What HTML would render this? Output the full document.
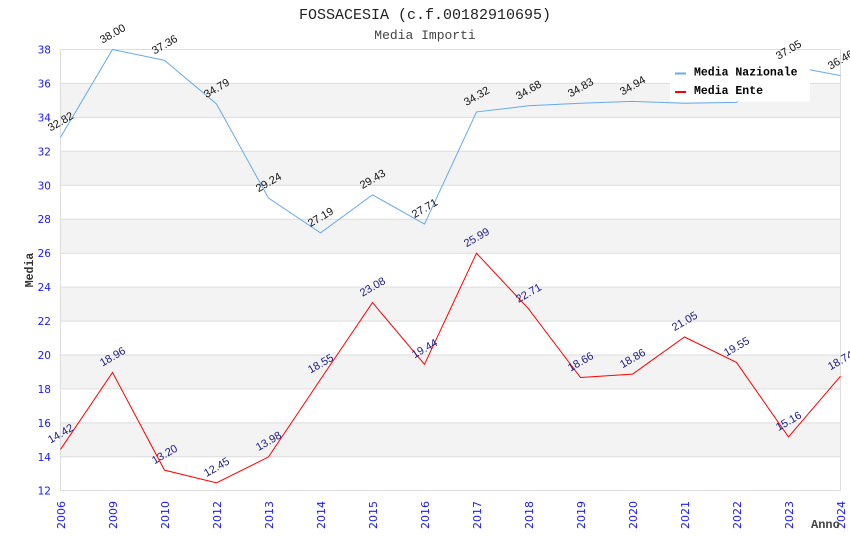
<!DOCTYPE html>
<html><head><meta charset="utf-8"><style>
html,body{margin:0;padding:0;background:#fff;}
svg{display:block;}
</style></head><body>
<svg width="850" height="550" viewBox="0 0 850 550" xmlns="http://www.w3.org/2000/svg">
<rect width="850" height="550" fill="#fff"/>
<!-- bands -->
<g fill="#f3f3f3">
<rect x="60.5" y="83.4" width="780" height="34"/>
<rect x="60.5" y="151.3" width="780" height="34"/>
<rect x="60.5" y="219.2" width="780" height="34"/>
<rect x="60.5" y="287.1" width="780" height="34"/>
<rect x="60.5" y="355.0" width="780" height="34"/>
<rect x="60.5" y="422.9" width="780" height="34"/>
</g>
<g stroke="#dddddd" stroke-width="1">
<line x1="60.5" x2="840.5" y1="49.5" y2="49.5"/>
<line x1="60.5" x2="840.5" y1="83.4" y2="83.4"/>
<line x1="60.5" x2="840.5" y1="117.4" y2="117.4"/>
<line x1="60.5" x2="840.5" y1="151.3" y2="151.3"/>
<line x1="60.5" x2="840.5" y1="185.3" y2="185.3"/>
<line x1="60.5" x2="840.5" y1="219.2" y2="219.2"/>
<line x1="60.5" x2="840.5" y1="253.2" y2="253.2"/>
<line x1="60.5" x2="840.5" y1="287.1" y2="287.1"/>
<line x1="60.5" x2="840.5" y1="321.1" y2="321.1"/>
<line x1="60.5" x2="840.5" y1="355.0" y2="355.0"/>
<line x1="60.5" x2="840.5" y1="388.9" y2="388.9"/>
<line x1="60.5" x2="840.5" y1="422.9" y2="422.9"/>
<line x1="60.5" x2="840.5" y1="456.8" y2="456.8"/>
<line x1="60.5" x2="840.5" y1="490.5" y2="490.5"/>
<line x1="60.5" x2="60.5" y1="49.5" y2="490.5"/>
<line x1="840.5" x2="840.5" y1="49.5" y2="490.5"/>
</g>
<!-- titles -->
<text x="425" y="19" text-anchor="middle" font-family="Liberation Mono, DejaVu Sans Mono, monospace" font-size="15" fill="#222">FOSSACESIA (c.f.00182910695)</text>
<text x="425" y="39" text-anchor="middle" font-family="Liberation Mono, DejaVu Sans Mono, monospace" font-size="13" fill="#444">Media Importi</text>
<!-- y ticks -->
<g font-family="DejaVu Sans, Liberation Sans, sans-serif" font-size="10.5" fill="#1a1aff" text-anchor="end">
<text x="51" y="53.5">38</text>
<text x="51" y="87.4">36</text>
<text x="51" y="121.4">34</text>
<text x="51" y="155.3">32</text>
<text x="51" y="189.3">30</text>
<text x="51" y="223.2">28</text>
<text x="51" y="257.2">26</text>
<text x="51" y="291.1">24</text>
<text x="51" y="325.1">22</text>
<text x="51" y="359.0">20</text>
<text x="51" y="392.9">18</text>
<text x="51" y="426.9">16</text>
<text x="51" y="460.8">14</text>
<text x="51" y="494.5">12</text>
</g>
<!-- x ticks -->
<g font-family="DejaVu Sans, Liberation Sans, sans-serif" font-size="11" fill="#1a1aff" text-anchor="end">
<text transform="translate(65,501) rotate(-90)">2006</text>
<text transform="translate(117,501) rotate(-90)">2009</text>
<text transform="translate(169,501) rotate(-90)">2010</text>
<text transform="translate(221,501) rotate(-90)">2012</text>
<text transform="translate(273,501) rotate(-90)">2013</text>
<text transform="translate(325,501) rotate(-90)">2014</text>
<text transform="translate(377,501) rotate(-90)">2015</text>
<text transform="translate(429,501) rotate(-90)">2016</text>
<text transform="translate(481,501) rotate(-90)">2017</text>
<text transform="translate(533,501) rotate(-90)">2018</text>
<text transform="translate(585,501) rotate(-90)">2019</text>
<text transform="translate(637,501) rotate(-90)">2020</text>
<text transform="translate(689,501) rotate(-90)">2021</text>
<text transform="translate(741,501) rotate(-90)">2022</text>
<text transform="translate(793,501) rotate(-90)">2023</text>
<text transform="translate(845,501) rotate(-90)">2024</text>
</g>
<!-- axis titles -->
<text transform="translate(33,270) rotate(-90)" text-anchor="middle" font-family="Liberation Mono, DejaVu Sans Mono, monospace" font-weight="bold" font-size="11.5" fill="#333">Media</text>
<text x="811" y="528" font-family="Liberation Mono, DejaVu Sans Mono, monospace" font-weight="bold" font-size="12" fill="#444">Anno</text>
<!-- series -->
<polyline fill="none" stroke="#66aaee" stroke-width="1" points="60.5,137.36 112.5,49.5 164.5,60.36 216.5,103.95 268.5,198.08 320.5,232.86 372.5,194.86 424.5,224.03 476.5,111.92 528.5,105.81 580.5,103.27 632.5,101.4 684.5,103.27 736.5,102.42 788.5,65.61 840.5,75.62"/>
<polyline fill="none" stroke="#ff0000" stroke-width="1" points="60.5,449.45 112.5,372.45 164.5,470.15 216.5,482.87 268.5,456.92 320.5,379.4 372.5,302.57 424.5,364.31 476.5,253.21 528.5,308.84 580.5,377.54 632.5,374.14 684.5,337 736.5,362.44 788.5,436.9 840.5,376.18"/>
<!-- value labels nazionale -->
<g font-family="Liberation Sans, DejaVu Sans, sans-serif" font-size="11" fill="#111" text-anchor="middle">
<text transform="translate(60.5,121.4) rotate(-30)" dy="0.35em">32.82</text>
<text transform="translate(112.5,33.5) rotate(-30)" dy="0.35em">38.00</text>
<text transform="translate(164.5,44.4) rotate(-30)" dy="0.35em">37.36</text>
<text transform="translate(216.5,88) rotate(-30)" dy="0.35em">34.79</text>
<text transform="translate(268.5,182.1) rotate(-30)" dy="0.35em">29.24</text>
<text transform="translate(320.5,216.9) rotate(-30)" dy="0.35em">27.19</text>
<text transform="translate(372.5,178.9) rotate(-30)" dy="0.35em">29.43</text>
<text transform="translate(424.5,208) rotate(-30)" dy="0.35em">27.71</text>
<text transform="translate(476.5,95.9) rotate(-30)" dy="0.35em">34.32</text>
<text transform="translate(528.5,89.8) rotate(-30)" dy="0.35em">34.68</text>
<text transform="translate(580.5,87.3) rotate(-30)" dy="0.35em">34.83</text>
<text transform="translate(632.5,85.4) rotate(-30)" dy="0.35em">34.94</text>
<text transform="translate(684.5,87.3) rotate(-30)" dy="0.35em">34.83</text>
<text transform="translate(736.5,86.4) rotate(-30)" dy="0.35em">34.88</text>
<text transform="translate(788.5,49.6) rotate(-30)" dy="0.35em">37.05</text>
<text transform="translate(840.5,59.6) rotate(-30)" dy="0.35em">36.46</text>
</g>
<!-- value labels ente -->
<g font-family="Liberation Sans, DejaVu Sans, sans-serif" font-size="11" fill="#1a1a88" text-anchor="middle">
<text transform="translate(60.5,433.4) rotate(-30)" dy="0.35em">14.42</text>
<text transform="translate(112.5,356.4) rotate(-30)" dy="0.35em">18.96</text>
<text transform="translate(164.5,454.1) rotate(-30)" dy="0.35em">13.20</text>
<text transform="translate(216.5,466.9) rotate(-30)" dy="0.35em">12.45</text>
<text transform="translate(268.5,440.9) rotate(-30)" dy="0.35em">13.98</text>
<text transform="translate(320.5,363.4) rotate(-30)" dy="0.35em">18.55</text>
<text transform="translate(372.5,286.6) rotate(-30)" dy="0.35em">23.08</text>
<text transform="translate(424.5,348.3) rotate(-30)" dy="0.35em">19.44</text>
<text transform="translate(476.5,237.2) rotate(-30)" dy="0.35em">25.99</text>
<text transform="translate(528.5,292.8) rotate(-30)" dy="0.35em">22.71</text>
<text transform="translate(580.5,361.5) rotate(-30)" dy="0.35em">18.66</text>
<text transform="translate(632.5,358.1) rotate(-30)" dy="0.35em">18.86</text>
<text transform="translate(684.5,321) rotate(-30)" dy="0.35em">21.05</text>
<text transform="translate(736.5,346.4) rotate(-30)" dy="0.35em">19.55</text>
<text transform="translate(788.5,420.9) rotate(-30)" dy="0.35em">15.16</text>
<text transform="translate(840.5,360.2) rotate(-30)" dy="0.35em">18.74</text>
</g>
<!-- legend -->
<rect x="670" y="60" width="140" height="41.5" fill="#fff"/>
<line x1="675" x2="686" y1="73.5" y2="73.5" stroke="#66aaee" stroke-width="2"/>
<line x1="675" x2="686" y1="92" y2="92" stroke="#ff0000" stroke-width="2"/>
<g font-family="Liberation Mono, DejaVu Sans Mono, monospace" font-weight="bold" font-size="11.5" fill="#000">
<text x="694" y="75.5">Media Nazionale</text>
<text x="694" y="94">Media Ente</text>
</g>
</svg>
</body></html>
